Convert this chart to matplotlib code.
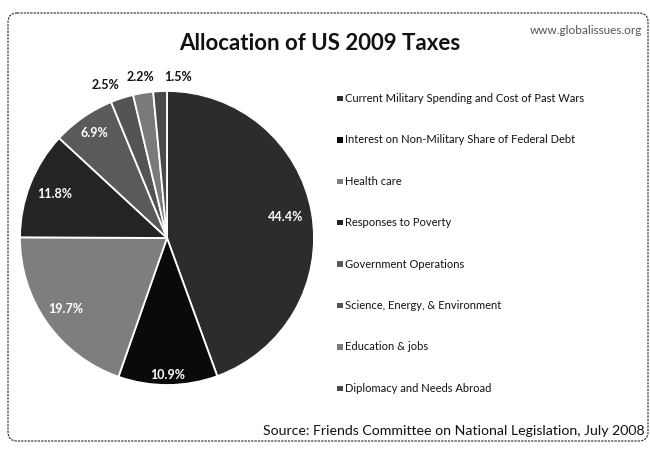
import matplotlib.pyplot as plt
import numpy as np
from matplotlib.patches import FancyBboxPatch, Rectangle

plt.rcParams["font.family"] = ["Lato", "DejaVu Sans"]

categories = [
    "Current Military Spending and Cost of Past Wars",
    "Interest on Non-Military Share of Federal Debt",
    "Health care",
    "Responses to Poverty",
    "Government Operations",
    "Science, Energy, & Environment",
    "Education & jobs",
    "Diplomacy and Needs Abroad",
]
shares = [44.4, 10.9, 19.7, 11.8, 6.9, 2.5, 2.2, 1.5]
share_labels = ["44.4%", "10.9%", "19.7%", "11.8%", "6.9%", "2.5%", "2.2%", "1.5%"]

# grey fills as printed
colors = ["#2c2c2c", "#0a0a0a", "#7e7e7e", "#242424",
          "#5a5a5a", "#545454", "#7a7a7a", "#4a4a4a"]
label_radius = [0.82, 0.93, 0.84, 0.82, 0.87, 1.12, 1.11, 1.10]
label_nudge = [0, 0, 0, 0, 0, 4, 0, -6.5]  # degrees, counter-clockwise

W, H = 650, 449
fig = plt.figure(figsize=(W / 100, H / 100), dpi=100)
fig.patch.set_facecolor("white")

# full-figure overlay in pixel units for text and frame
canvas = fig.add_axes([0, 0, 1, 1])
canvas.set_xlim(0, W)
canvas.set_ylim(H, 0)
canvas.axis("off")

frame = FancyBboxPatch((8, 13), 640, 428, boxstyle="round,pad=0,rounding_size=9",
                       fill=False, edgecolor="#222222", linewidth=0.8,
                       linestyle=(0, (2, 1)))
canvas.add_patch(frame)

canvas.text(320, 43, "Allocation of US 2009 Taxes", ha="center", va="center",
            fontsize=16, fontweight="bold", color="#111111")
canvas.text(642, 30, "www.globalissues.org", ha="right", va="center",
            fontsize=8.5, color="#555555")
canvas.text(645, 431, "Source: Friends Committee on National Legislation, July 2008",
            ha="right", va="center", fontsize=10.2, color="#111111")

# legend
row_y = 98.5
row_step = 41.4
for i, name in enumerate(categories):
    y = row_y + i * row_step
    canvas.add_patch(Rectangle((337, y - 2.8), 5.5, 5.5, facecolor=colors[i],
                               edgecolor="none"))
    canvas.text(345, y, name, ha="left", va="center", fontsize=8, color="#111111")

# pie
cx, cy, r = 167, 238, 147
ax = fig.add_axes([(cx - r) / W, (H - cy - r) / H, 2 * r / W, 2 * r / H])
wedges, _ = ax.pie(shares, startangle=90, counterclock=False, colors=colors,
                   wedgeprops=dict(edgecolor="white", linewidth=1.3))
ax.set_xlim(-1, 1)
ax.set_ylim(-1, 1)
ax.set_aspect("equal")
ax.axis("off")

for w, text, rad, nudge in zip(wedges, share_labels, label_radius, label_nudge):
    mid = np.deg2rad((w.theta1 + w.theta2) / 2 + nudge)
    inside = rad < 1
    ax.text(rad * np.cos(mid), rad * np.sin(mid), text, ha="center", va="center",
            fontsize=9, fontweight="bold",
            color="white" if inside else "#111111")

fig.savefig("out.png", dpi=100)
